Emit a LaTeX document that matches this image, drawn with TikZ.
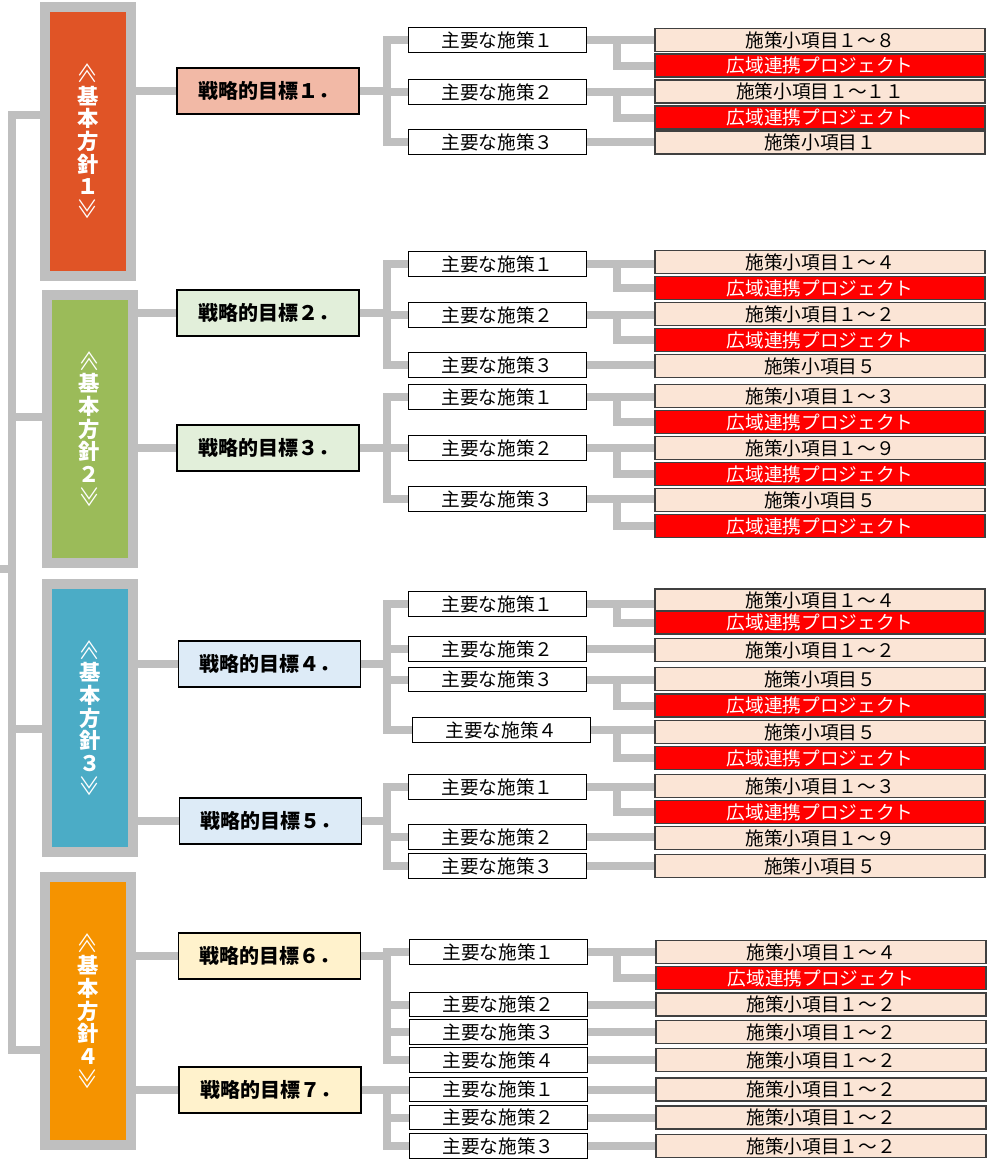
\documentclass[tikz,border=0pt]{standalone}
\usepackage{fontspec}
\setmainfont{Noto Sans CJK JP}
\usepackage{graphicx}
\usetikzlibrary{positioning}

\definecolor{linegray}{RGB}{191,191,191}
\definecolor{polone}{RGB}{224,84,38}
\definecolor{poltwo}{RGB}{155,187,89}
\definecolor{polthree}{RGB}{75,172,198}
\definecolor{polfour}{RGB}{245,147,0}
\definecolor{goalred}{RGB}{242,185,166}
\definecolor{goalgreen}{RGB}{226,239,218}
\definecolor{goalblue}{RGB}{221,235,247}
\definecolor{goalyellow}{RGB}{255,242,204}
\definecolor{itempeach}{RGB}{251,229,214}

\newcommand{\policytext}[1]{{\mdseries\rotatebox[origin=c]{-90}{≪}}\\基\\本\\方\\針\\#1\\{\mdseries\rotatebox[origin=c]{-90}{≫}}}

\tikzset{
  link/.style = {draw = linegray, line width = 6pt},
  policy/.style = {draw = linegray, line width = 7.5pt, minimum width = 64.5pt, minimum height = 201.5pt,
    inner sep = 0, text = white, align = center, font = \fontsize{16}{17}\selectfont\bfseries},
  goal/.style = {draw = black, line width = 1.1pt, minimum width = 136.5pt, minimum height = 34.5pt,
    inner sep = 0, font = \fontsize{15}{15}\selectfont\bfseries},
  measure/.style = {draw = black, line width = 0.8pt, fill = white, minimum width = 134pt,
    minimum height = 18.5pt, inner sep = 0, font = \fontsize{14}{14}\selectfont},
  item/.style = {draw = black!75, line width = 0.8pt, fill = itempeach, minimum width = 247.5pt,
    minimum height = 17.25pt, inner sep = 0, font = \fontsize{14}{14}\selectfont},
  wide/.style = {item, fill = red, text = white},
}

\begin{document}
\begin{tikzpicture}[x = 0.75pt, y = -0.75pt]
        \useasboundingbox (0,0) rectangle (990,1161);

        % Policies
        \node[policy, fill = polone] (pol_1) at (88,141.5) {\policytext{１}};
        \node[policy, fill = poltwo] (pol_2) at (89.5,429) {\policytext{２}};
        \node[policy, fill = polthree] (pol_3) at (90,718) {\policytext{３}};
        \node[policy, fill = polfour] (pol_4) at (88,1011) {\policytext{４}};

        % Strategic goals
        \node[goal, fill = goalred] (goal_1) at (268,91) {戦略的目標１．};
        \node[goal, fill = goalgreen] (goal_2) at (268,313) {戦略的目標２．};
        \node[goal, fill = goalgreen] (goal_3) at (268,448) {戦略的目標３．};
        \node[goal, fill = goalblue] (goal_4) at (269.5,664) {戦略的目標４．};
        \node[goal, fill = goalblue] (goal_5) at (270.5,821) {戦略的目標５．};
        \node[goal, fill = goalyellow] (goal_6) at (269.5,956) {戦略的目標６．};
        \node[goal, fill = goalyellow] (goal_7) at (270,1090) {戦略的目標７．};

        % Measures
        \node[measure] (m_1a) at (497.5,40) {主要な施策１};
        \node[measure] (m_1b) at (497.5,92) {主要な施策２};
        \node[measure] (m_1c) at (497.5,142) {主要な施策３};
        \node[measure] (m_2a) at (497.5,264) {主要な施策１};
        \node[measure] (m_2b) at (497.5,315) {主要な施策２};
        \node[measure] (m_2c) at (497.5,365) {主要な施策３};
        \node[measure] (m_3a) at (497.5,397) {主要な施策１};
        \node[measure] (m_3b) at (497.5,448) {主要な施策２};
        \node[measure] (m_3c) at (497.5,499) {主要な施策３};
        \node[measure] (m_4a) at (497.5,604) {主要な施策１};
        \node[measure] (m_4b) at (497.5,649) {主要な施策２};
        \node[measure] (m_4c) at (497.5,679.5) {主要な施策３};
        \node[measure] (m_4d) at (501.5,730) {主要な施策４};
        \node[measure] (m_5a) at (497.5,787) {主要な施策１};
        \node[measure] (m_5b) at (497.5,837) {主要な施策２};
        \node[measure] (m_5c) at (497.5,866) {主要な施策３};
        \node[measure] (m_6a) at (498.5,952) {主要な施策１};
        \node[measure] (m_6b) at (498.5,1004.5) {主要な施策２};
        \node[measure] (m_6c) at (498.5,1032) {主要な施策３};
        \node[measure] (m_6d) at (498.5,1060) {主要な施策４};
        \node[measure] (m_7a) at (498.5,1089.5) {主要な施策１};
        \node[measure] (m_7b) at (498.5,1117.5) {主要な施策２};
        \node[measure] (m_7c) at (498.5,1146) {主要な施策３};

        % Items
        \node[item] (i_1a) at (820,40) {施策小項目１～８};
        \node[wide] (w_1a) at (820,65.5) {広域連携プロジェクト};
        \node[item] (i_1b) at (820,91.5) {施策小項目１～１１};
        \node[wide] (w_1b) at (820,117.5) {広域連携プロジェクト};
        \node[item] (i_1c) at (820,142.5) {施策小項目１};
        \node[item] (i_2a) at (820,262) {施策小項目１～４};
        \node[wide] (w_2a) at (820,288) {広域連携プロジェクト};
        \node[item] (i_2b) at (820,314) {施策小項目１～２};
        \node[wide] (w_2b) at (820,340) {広域連携プロジェクト};
        \node[item] (i_2c) at (820,366) {施策小項目５};
        \node[item] (i_3a) at (820,396) {施策小項目１～３};
        \node[wide] (w_3a) at (820,422) {広域連携プロジェクト};
        \node[item] (i_3b) at (820,448) {施策小項目１～９};
        \node[wide] (w_3b) at (820,474) {広域連携プロジェクト};
        \node[item] (i_3c) at (820,500) {施策小項目５};
        \node[wide] (w_3c) at (820,526) {広域連携プロジェクト};
        \node[item] (i_4a) at (820,600.5) {施策小項目１～４};
        \node[wide] (w_4a) at (820,622.5) {広域連携プロジェクト};
        \node[item] (i_4b) at (820,650) {施策小項目１～２};
        \node[item] (i_4c) at (820,679) {施策小項目５};
        \node[wide] (w_4c) at (820,705.5) {広域連携プロジェクト};
        \node[item] (i_4d) at (820,732) {施策小項目５};
        \node[wide] (w_4d) at (820,758) {広域連携プロジェクト};
        \node[item] (i_5a) at (820,786) {施策小項目１～３};
        \node[wide] (w_5a) at (820,812) {広域連携プロジェクト};
        \node[item] (i_5b) at (820,838) {施策小項目１～９};
        \node[item] (i_5c) at (820,866) {施策小項目５};
        \node[item] (i_6a) at (821,952) {施策小項目１～４};
        \node[wide] (w_6a) at (821,978) {広域連携プロジェクト};
        \node[item] (i_6b) at (821,1004.5) {施策小項目１～２};
        \node[item] (i_6c) at (821,1032) {施策小項目１～２};
        \node[item] (i_6d) at (821,1060) {施策小項目１～２};
        \node[item] (i_7a) at (821,1089.5) {施策小項目１～２};
        \node[item] (i_7b) at (821,1117.5) {施策小項目１～２};
        \node[item] (i_7c) at (821,1146) {施策小項目１～２};

        % Spine on the left
        \coordinate (s_1) at (12,115);
        \coordinate (s_2) at (12,417);
        \coordinate (s_3) at (12,729);
        \coordinate (s_4) at (12,1050);
        \coordinate (stub) at (0,569);
        \draw[link] (s_1 -| pol_1.west) -- (s_1) -- (s_4) -- (s_4 -| pol_4.west);
        \draw[link] (s_2) -- (s_2 -| pol_2.west);
        \draw[link] (s_3) -- (s_3 -| pol_3.west);
        \draw[link] (stub) -- (stub -| s_1);

        % Policy to goal
        \draw[link] (goal_1 -| pol_1.east) -- (goal_1.west);
        \draw[link] (goal_2 -| pol_2.east) -- (goal_2.west);
        \draw[link] (goal_3 -| pol_2.east) -- (goal_3.west);
        \draw[link] (goal_4 -| pol_3.east) -- (goal_4.west);
        \draw[link] (goal_5 -| pol_3.east) -- (goal_5.west);
        \draw[link] (goal_6 -| pol_4.east) -- (goal_6.west);
        \draw[link] (goal_7 -| pol_4.east) -- (goal_7.west);

        % Goal to measures
        \coordinate (trunk) at (387,0);
        \coordinate (bend) at (617,0);
        \foreach \g/\a/\z in {goal_1/m_1a/m_1c, goal_2/m_2a/m_2c, goal_3/m_3a/m_3c, goal_4/m_4a/m_4d,
                goal_5/m_5a/m_5c, goal_6/m_6a/m_6d, goal_7/m_7a/m_7c} {
            \draw[link] (\g.east) -- (\g -| trunk);
            \draw[link] (\a.west) -- (\a -| trunk) -- (\z -| trunk) -- (\z.west);
        }
        \foreach \m in {m_1b, m_2b, m_3b, m_4b, m_4c, m_5b, m_6b, m_6c, m_7b}
            \draw[link] (\m.west) -- (\m -| trunk);

        % Measures to items
        \foreach \m/\i in {m_1a/i_1a, m_1b/i_1b, m_1c/i_1c, m_2a/i_2a, m_2b/i_2b, m_2c/i_2c,
                m_3a/i_3a, m_3b/i_3b, m_3c/i_3c, m_4a/i_4a, m_4b/i_4b, m_4c/i_4c, m_4d/i_4d,
                m_5a/i_5a, m_5b/i_5b, m_5c/i_5c, m_6a/i_6a, m_6b/i_6b, m_6c/i_6c, m_6d/i_6d,
                m_7a/i_7a, m_7b/i_7b, m_7c/i_7c}
            \draw[link] (\m.east) -- (\m.east -| \i.west);
        \foreach \m/\w in {m_1a/w_1a, m_1b/w_1b, m_2a/w_2a, m_2b/w_2b, m_3a/w_3a, m_3b/w_3b,
                m_3c/w_3c, m_4a/w_4a, m_4c/w_4c, m_4d/w_4d, m_5a/w_5a, m_6a/w_6a}
            \draw[link] (\m -| bend) |- (\w.west);
\end{tikzpicture}
\end{document}
